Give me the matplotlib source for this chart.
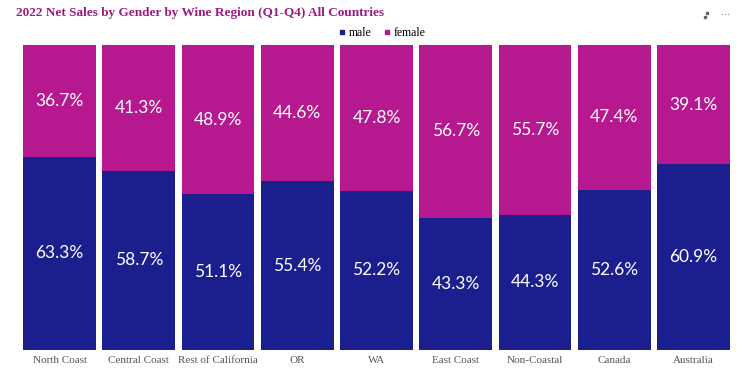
import matplotlib
matplotlib.use("Agg")
import matplotlib.pyplot as plt
from matplotlib.lines import Line2D

regions = ["North Coast", "Central Coast", "Rest of California", "OR", "WA",
           "East Coast", "Non-Coastal", "Canada", "Australia"]
male = [63.3, 58.7, 51.1, 55.4, 52.2, 43.3, 44.3, 52.6, 60.9]
female = [36.7, 41.3, 48.9, 44.6, 47.8, 56.7, 55.7, 47.4, 39.1]

male_color = "#1b1f8e"
female_color = "#b5188f"

fig = plt.figure(figsize=(7.42, 3.74), dpi=100)
ax = fig.add_axes([20 / 742, 24 / 374, 713 / 742, 305 / 374])

x = list(range(len(regions)))
w = 0.92
ax.bar(x, male, width=w, color=male_color, linewidth=0)
ax.bar(x, female, width=w, bottom=male, color=female_color, linewidth=0)

for i in x:
    ax.text(i, male[i] / 2, f"{male[i]:.1f}%", ha="center", va="center",
            color="white", fontsize=12.5, family="Lato")
    ax.text(i, male[i] + female[i] / 2, f"{female[i]:.1f}%", ha="center",
            va="center", color="white", fontsize=12.5, family="Lato")

ax.set_xlim(-0.5, len(regions) - 0.5)
ax.set_ylim(0, 100)
ax.set_xticks(x)
ax.set_xticklabels(regions, fontsize=8, color="#555555", family="Liberation Serif")
ax.tick_params(axis="x", length=0, pad=4)
ax.set_yticks([])
for s in ax.spines.values():
    s.set_visible(False)

fig.text(16 / 742, 1 - 13 / 374, "2022 Net Sales by Gender by Wine Region (Q1-Q4) All Countries",
         fontsize=9.5, fontweight="bold", color="#9c1a80", family="Liberation Serif",
         va="center", ha="left")

handles = [Line2D([], [], marker="s", linestyle="none", color=male_color, markersize=3.5),
           Line2D([], [], marker="s", linestyle="none", color=female_color, markersize=3.5)]
fig.legend(handles, ["male", "female"], loc="center", bbox_to_anchor=(381 / 742, 1 - 33 / 374),
           ncol=2, frameon=False, handletextpad=0.1, columnspacing=0.8, handlelength=1.0,
           prop={"family": "Liberation Serif", "size": 8.5})

# expand icon (two small dots) and menu dots
fig.add_artist(Line2D([707 / 742, 705 / 742], [1 - 13 / 374, 1 - 17 / 374], transform=fig.transFigure,
                      marker="s", markersize=1.5, linestyle="none", color="#666666"))
fig.text(726 / 742, 1 - 15 / 374, "···", fontsize=7, color="#666666", ha="center", va="center")

fig.savefig("out.png", dpi=100)
